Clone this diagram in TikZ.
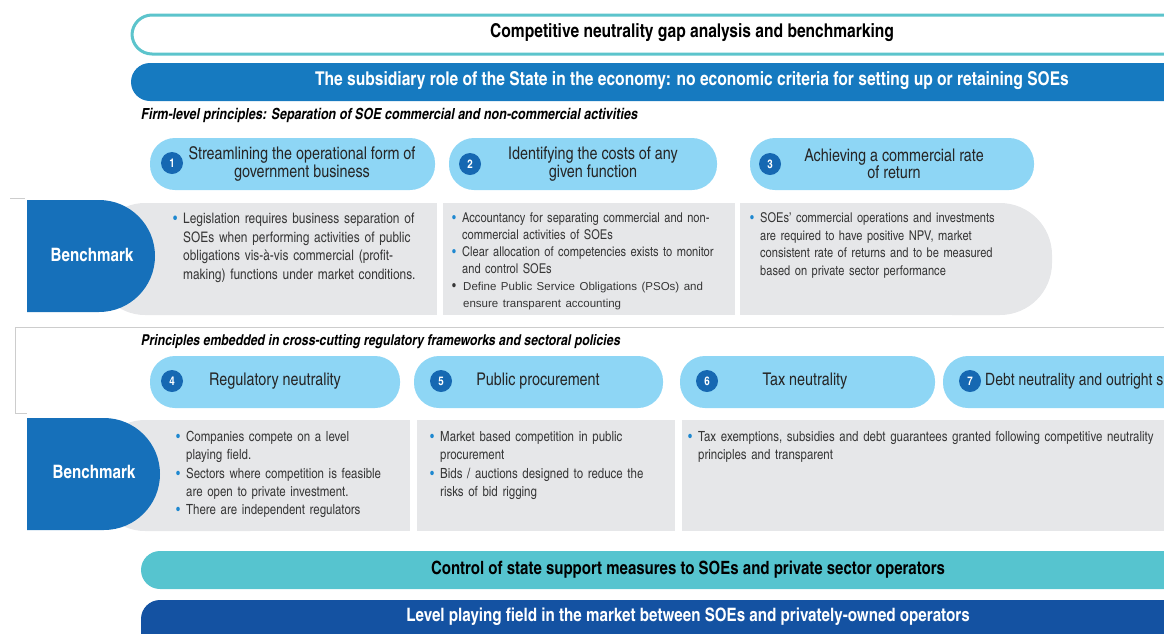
\documentclass[tikz,border=0pt]{standalone}
\usepackage{fontspec}
\setmainfont{texgyreheroscn}[Extension=.otf, UprightFont=*-regular, BoldFont=*-bold, ItalicFont=*-italic, BoldItalicFont=*-bolditalic]
\newfontfamily\arialfont{Liberation Sans}
\usetikzlibrary{positioning}
\definecolor{rimteal}{RGB}{92, 196, 204}
\definecolor{barblue}{RGB}{22, 122, 192}
\definecolor{pillblue}{RGB}{142, 214, 245}
\definecolor{numblue}{RGB}{22, 104, 178}
\definecolor{benchblue}{RGB}{22, 112, 186}
\definecolor{benchgrey}{RGB}{230, 231, 233}
\definecolor{barteal}{RGB}{86, 196, 207}
\definecolor{bardark}{RGB}{20, 82, 162}
\definecolor{bodygrey}{RGB}{55, 55, 55}
\definecolor{bulblue}{RGB}{30, 136, 208}
\definecolor{faint}{RGB}{205, 205, 205}
\newcommand{\bitem}[3][bulblue]{\par\leftskip=#2\noindent\llap{\makebox[#2][l]{\textcolor{#1}{\textbullet}}}#3\par}

\begin{document}
\begin{tikzpicture}[x=1pt, y=-1pt,
  pill/.style={fill=pillblue, rounded corners=25pt, minimum height=52pt, inner sep=0pt},
  num/.style={circle, fill=numblue, text=white, minimum size=22pt, inner sep=0pt, font=\fontsize{12}{12}\selectfont\bfseries},
  pilltxt/.style={align=center, inner sep=0pt, text=black!85, font=\fontsize{17.5}{17.5}\selectfont},
  body/.style={anchor=north west, inner sep=0pt, text width=330pt, text=bodygrey},
  benchtxt/.style={text=white, font=\fontsize{18.5}{18.5}\selectfont\bfseries},
  bartxt/.style={font=\fontsize{19}{19}\selectfont\bfseries},
  headtxt/.style={anchor=west, inner sep=0pt, font=\fontsize{15.3}{15.3}\selectfont\bfseries\itshape}
]
  \useasboundingbox (0,0) rectangle (1164,633);
  \clip (0,0) rectangle (1164,633);

  % --- Faint frame lines ---
  \draw[faint, thin] (10,198) -- (25,198);
  \draw[faint, thin] (15,413) -- (15,327) -- (1164,327);
  \draw[faint, thin] (15,413) -- (27,413);

  % --- Top bars ---
  \draw[rimteal, line width=3pt, fill=white, rounded corners=20pt] (132,15) rectangle (1200,54);
  \node[bartxt] (title) at (692,33) {Competitive neutrality gap analysis and benchmarking};
  \fill[barblue, rounded corners=19pt] (131,63) rectangle (1200,101);
  \node[bartxt, text=white] (state) at (692,81) {The subsidiary role of the State in the economy: no economic criteria for setting up or retaining SOEs};
  \node[headtxt] (firm) at (141,115) {Firm-level principles: Separation of SOE commercial and non-commercial activities};

  % --- Firm-level pills ---
  \node[pill, minimum width=285pt] (p1) at (292.5,164) {};
  \node[num] (n1) at (172,163) {1};
  \node[pilltxt] (t1) at (302,164) {Streamlining the operational form of\\government business};
  \node[pill, minimum width=268pt] (p2) at (583,164) {};
  \node[num] (n2) at (470,164) {2};
  \node[pilltxt] (t2) at (593,164) {Identifying the costs of any\\given function};
  \node[pill, minimum width=284pt] (p3) at (892,164) {};
  \node[num] (n3) at (770,164) {3};
  \node[pilltxt] (t3) at (894,164) {Achieving a commercial rate\\of return};

  % --- Firm-level benchmark ---
  \fill[benchgrey, rounded corners=50pt] (95,203) rectangle (300,315);
  \fill[benchgrey] (200,203) rectangle (437,315);
  \fill[benchgrey] (443,203) rectangle (735,315);
  \fill[benchgrey, rounded corners=52pt] (900,203) rectangle (1052,315);
  \fill[benchgrey] (740,203) rectangle (1000,315);
  \fill[benchblue] (27,200) -- (99,200) arc[start angle=-90, end angle=90, radius=56] -- (27,312) -- cycle;
  \node[benchtxt] (b1) at (92,255) {Benchmark};
  \node[body, font=\fontsize{14.5}{18.5}\selectfont] (x1) at (173,205)
    {\bitem{10pt}{Legislation requires business separation of\newline SOEs when performing activities of public\newline obligations vis-à-vis commercial (profit-\newline making) functions under market conditions.}};
  \node[body, font=\fontsize{13.5}{17}\selectfont] (x2) at (452,205)
    {\bitem{10pt}{Accountancy for separating commercial and non-\newline commercial activities of SOEs}
     \bitem{10pt}{Clear allocation of competencies exists to monitor\newline and control SOEs}
     \bitem[bodygrey]{11pt}{{\arialfont\fontsize{11.5}{17}\selectfont Define Public Service Obligations (PSOs) and\newline ensure transparent accounting}}};
  \node[body, font=\fontsize{13.5}{17.5}\selectfont] (x3) at (750,205)
    {\bitem{10pt}{SOEs' commercial operations and investments\newline are required to have positive NPV, market\newline consistent rate of returns and to be measured\newline based on private sector performance}};

  % --- Cross-cutting pills ---
  \node[headtxt, font=\fontsize{15}{15}\selectfont\bfseries\itshape] (cross) at (141,342) {Principles embedded in cross-cutting regulatory frameworks and sectoral policies};
  \node[pill, minimum width=250pt] (p4) at (275,382) {};
  \node[num] (n4) at (172,381) {4};
  \node[pilltxt] (t4) at (275,381) {Regulatory neutrality};
  \node[pill, minimum width=249pt] (p5) at (538.5,382) {};
  \node[num] (n5) at (441,381) {5};
  \node[pilltxt] (t5) at (538,381) {Public procurement};
  \node[pill, minimum width=255pt] (p6) at (807.5,382) {};
  \node[num] (n6) at (707,381) {6};
  \node[pilltxt] (t6) at (805,381) {Tax neutrality};
  \node[pill, minimum width=280pt] (p7) at (1083,382) {};
  \node[num] (n7) at (970,381) {7};
  \node[pilltxt, anchor=west, font=\fontsize{17}{17}\selectfont] (t7) at (985,381) {Debt neutrality and outright s};

  % --- Cross-cutting benchmark ---
  \fill[benchgrey, rounded corners=50pt] (95,420) rectangle (300,531);
  \fill[benchgrey] (200,420) rectangle (410,531);
  \fill[benchgrey] (417,420) rectangle (675,531);
  \fill[benchgrey] (682,420) rectangle (1170,531);
  \fill[benchblue] (27,418) -- (104,418) arc[start angle=-90, end angle=90, radius=56] -- (27,530) -- cycle;
  \node[benchtxt] (b2) at (94,472) {Benchmark};
  \node[body, font=\fontsize{14}{18.3}\selectfont] (x4) at (176,423)
    {\bitem{10pt}{Companies compete on a level\newline playing field.}
     \bitem{10pt}{Sectors where competition is feasible\newline are open to private investment.}
     \bitem{10pt}{There are independent regulators}};
  \node[body, font=\fontsize{14}{18.3}\selectfont] (x5) at (430,423)
    {\bitem{10pt}{Market based competition in public\newline procurement}
     \bitem{10pt}{Bids / auctions designed to reduce the\newline risks of bid rigging}};
  \node[body, text width=600pt, font=\fontsize{14}{18.3}\selectfont] (x6) at (688,423)
    {\bitem{10pt}{Tax exemptions, subsidies and debt guarantees granted following competitive neutrality\newline principles and transparent}};

  % --- Bottom bars ---
  \fill[barteal, rounded corners=19pt] (141,551) rectangle (1200,589);
  \node[bartxt, font=\fontsize{18.3}{18.3}\selectfont\bfseries] (support) at (688,570) {Control of state support measures to SOEs and private sector operators};
  \fill[bardark, rounded corners=19pt] (141,600) rectangle (1200,660);
  \node[bartxt, text=white, font=\fontsize{18.5}{18.5}\selectfont\bfseries] (field) at (688,617) {Level playing field in the market between SOEs and privately-owned operators};
\end{tikzpicture}
\end{document}
